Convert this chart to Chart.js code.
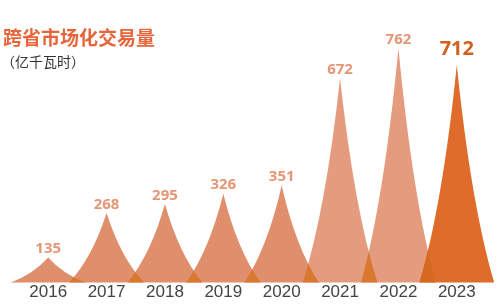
<!DOCTYPE html>
<html>
<head>
<meta charset="utf-8">
<script src="https://cdn.jsdelivr.net/npm/chart.js@4"></script>
<style>
  body { margin: 0; background: #fff; }
  #wrap { position: relative; width: 500px; height: 304px; }
  .title { position: absolute; left: 3px; top: 27px; font: bold 19px "Noto Sans CJK SC", sans-serif; line-height: 1; color: #E8643A; }
  .unit { position: absolute; left: 1px; top: 54px; font: 14px "Noto Sans CJK SC", sans-serif; line-height: 1; color: #333; }
</style>
</head>
<body>
<div id="wrap">
  <canvas id="chart"></canvas>
  <div class="title">跨省市场化交易量</div>
  <div class="unit">（亿千瓦时）</div>
</div>
<script>
// 数据
const years = ['2016', '2017', '2018', '2019', '2020', '2021', '2022', '2023'];
const volumes = [135, 268, 295, 326, 351, 672, 762, 712];
const axisMin = 60;
const axisMax = 846;

// 颜色
const spikeColors = ['#E08F6C', '#E08F6C', '#E08F6C', '#E08F6C', '#E08F6C', '#E59C7E', '#E59C7E', '#E06C2B'];
const overlapColor = '#D9782F';
const labelColor = '#E49676';
const highlightColor = '#D2601E';

function spikePath(ctx, bar) {
    const hw = bar.width * 0.64;
    const h = bar.base - bar.y;
    ctx.beginPath();
    ctx.moveTo(bar.x - hw, bar.base);
    ctx.quadraticCurveTo(bar.x - hw * 0.38, bar.base - h * 0.36, bar.x, bar.y);
    ctx.quadraticCurveTo(bar.x + hw * 0.38, bar.base - h * 0.36, bar.x + hw, bar.base);
    ctx.closePath();
}

const spikePlugin = {
    id: 'spikes',
    afterDatasetsDraw(chart) {
        const ctx = chart.ctx;
        const bars = chart.getDatasetMeta(0).data;
        ctx.save();
        bars.forEach((bar, i) => {
            spikePath(ctx, bar);
            ctx.fillStyle = spikeColors[i];
            ctx.fill();
        });
        // 重叠部分
        for (let i = 1; i < bars.length; i++) {
            ctx.save();
            spikePath(ctx, bars[i - 1]);
            ctx.clip();
            spikePath(ctx, bars[i]);
            ctx.fillStyle = i === bars.length - 1 ? '#D4691F' : overlapColor;
            ctx.fill();
            ctx.restore();
        }
        // 数值标签
        ctx.textAlign = 'center';
        ctx.textBaseline = 'bottom';
        bars.forEach((bar, i) => {
            const last = i === bars.length - 1;
            ctx.font = last ? 'bold 20px "Noto Sans", sans-serif' : 'bold 15px "Noto Sans", sans-serif';
            ctx.fillStyle = last ? highlightColor : labelColor;
            ctx.fillText(String(volumes[i]), bar.x, bar.y - (last ? 5 : 1));
        });
        ctx.restore();
    }
};

new Chart(document.getElementById('chart'), {
    type: 'bar',
    data: {
        labels: years,
        datasets: [{
            data: volumes,
            base: axisMin,
            backgroundColor: 'rgba(0,0,0,0)',
            categoryPercentage: 1,
            barPercentage: 1
        }]
    },
    options: {
        responsive: true,
        maintainAspectRatio: false,
        animation: false,
        layout: { padding: { top: 20, left: 19, right: 14, bottom: 1 } },
        plugins: { legend: { display: false }, tooltip: { enabled: false } },
        scales: {
            x: {
                grid: { display: false, drawTicks: false },
                border: { display: false },
                ticks: { padding: 0, color: '#444', font: { size: 17, family: '"Liberation Sans", Arial, sans-serif' } }
            },
            y: {
                display: false,
                min: axisMin,
                max: axisMax
            }
        }
    },
    plugins: [spikePlugin]
});
</script>
</body>
</html>
